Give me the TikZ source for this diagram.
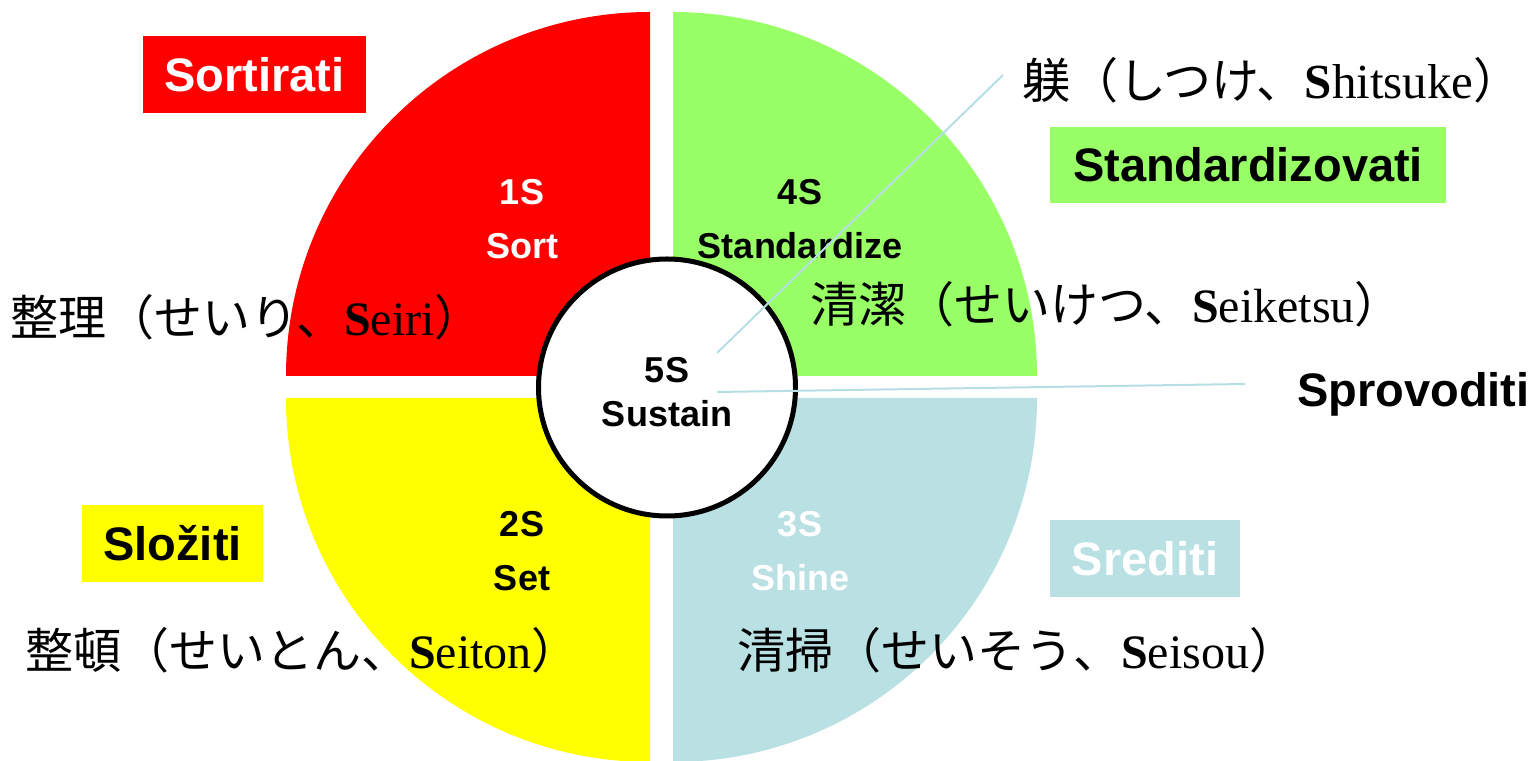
\documentclass[tikz,border=0pt]{standalone}
\usepackage{fontspec}
\setmainfont{Liberation Serif}
\newfontfamily\jp{Noto Sans CJK JP}
\newfontfamily\ar{Liberation Sans}
\definecolor{qred}{RGB}{255,0,0}
\definecolor{qgreen}{RGB}{153,255,102}
\definecolor{qyellow}{RGB}{255,255,0}
\definecolor{qblue}{RGB}{185,224,227}
\definecolor{lnblue}{RGB}{183,222,227}
\newcommand{\jline}[5]{{\fontsize{#1}{#1}\jp #3}{\fontsize{#2}{#2}\selectfont\textbf{S}#4}{\fontsize{#1}{#1}\jp #5}}
\begin{document}
\begin{tikzpicture}[x=1pt,y=1pt,
  qlab/.style={font=\ar\bfseries\fontsize{36}{36}\selectfont, anchor=base, inner sep=0},
  tagbox/.style={font=\ar\bfseries\fontsize{47}{47}\selectfont, inner sep=0},
  jtxt/.style={anchor=base west, inner sep=0},
  conn/.style={draw=lnblue, line width=2pt}]
\useasboundingbox (0,0) rectangle (1538,760);
% quadrants
\fill[qred] (650,384) -- (286,384) arc[start angle=180,end angle=90,radius=364] -- cycle;
\fill[qgreen] (673,384) -- (1037,384) arc[start angle=0,end angle=90,radius=364] -- cycle;
\fill[qyellow] (650,362) -- (286,362) arc[start angle=180,end angle=270,radius=364] -- cycle;
\fill[qblue] (673,362) -- (1037,362) arc[start angle=0,end angle=-90,radius=364] -- cycle;
% centre circle
\node[circle, draw=black, fill=white, line width=5pt, minimum size=257pt, inner sep=0] (core) at (667,372.5) {};
% quadrant labels
\node[qlab, text=white] (s1a) at (522,555) {1S};
\node[qlab, text=white] (s1b) at (522,501) {Sort};
\node[qlab, text=black] (s4a) at (800,555) {4S};
\node[qlab, text=black] (s4b) at (800,501) {Standardize};
\node[qlab, text=black] (s2a) at (522,223) {2S};
\node[qlab, text=black] (s2b) at (522,169) {Set};
\node[qlab, text=white] (s3a) at (800,223) {3S};
\node[qlab, text=white] (s3b) at (800,169) {Shine};
\node[qlab, text=black] (s5a) at (667,377) {5S};
\node[qlab, text=black] (s5b) at (667,333) {Sustain};
% tag boxes
\node[tagbox, fill=qred, text=white, minimum width=223pt, minimum height=77pt] (t1) at (254.5,685.5) {Sortirati};
\node[tagbox, fill=qgreen, text=black, minimum width=396pt, minimum height=76pt] (t4) at (1248,595) {Standardizovati};
\node[tagbox, fill=qyellow, text=black, minimum width=181pt, minimum height=77pt] (t2) at (172.5,216.5) {Složiti};
\node[tagbox, fill=qblue, text=white, minimum width=190pt, minimum height=77pt] (t3) at (1145,201.5) {Srediti};
\node[tagbox, anchor=base west] (t5) at (1297,353) {Sprovoditi};
% Japanese lines
\node[jtxt] (j5) at (1022,661) {\jline{48}{49}{躾（しつけ、}{hitsuke}{）}};
\node[jtxt] (j1) at (10,424) {\jline{48}{48}{整理（せいり、}{eiri}{）}};
\node[jtxt] (j4) at (810,437) {\jline{48}{48}{清潔（せいけつ、}{eiketsu}{）}};
\node[jtxt] (j2) at (25,92) {\jline{48}{48}{整頓（せいとん、}{eiton}{）}};
\node[jtxt] (j3) at (737,92) {\jline{48}{48}{清掃（せいそう、}{eisou}{）}};
% connectors
\coordinate (c1) at (717,407);
\coordinate (e1) at (1003,685);
\coordinate (c2) at (717,368);
\coordinate (e2) at (1245,376);
\draw[conn] (c1) -- (e1);
\draw[conn] (c2) -- (e2);
\end{tikzpicture}
\end{document}
